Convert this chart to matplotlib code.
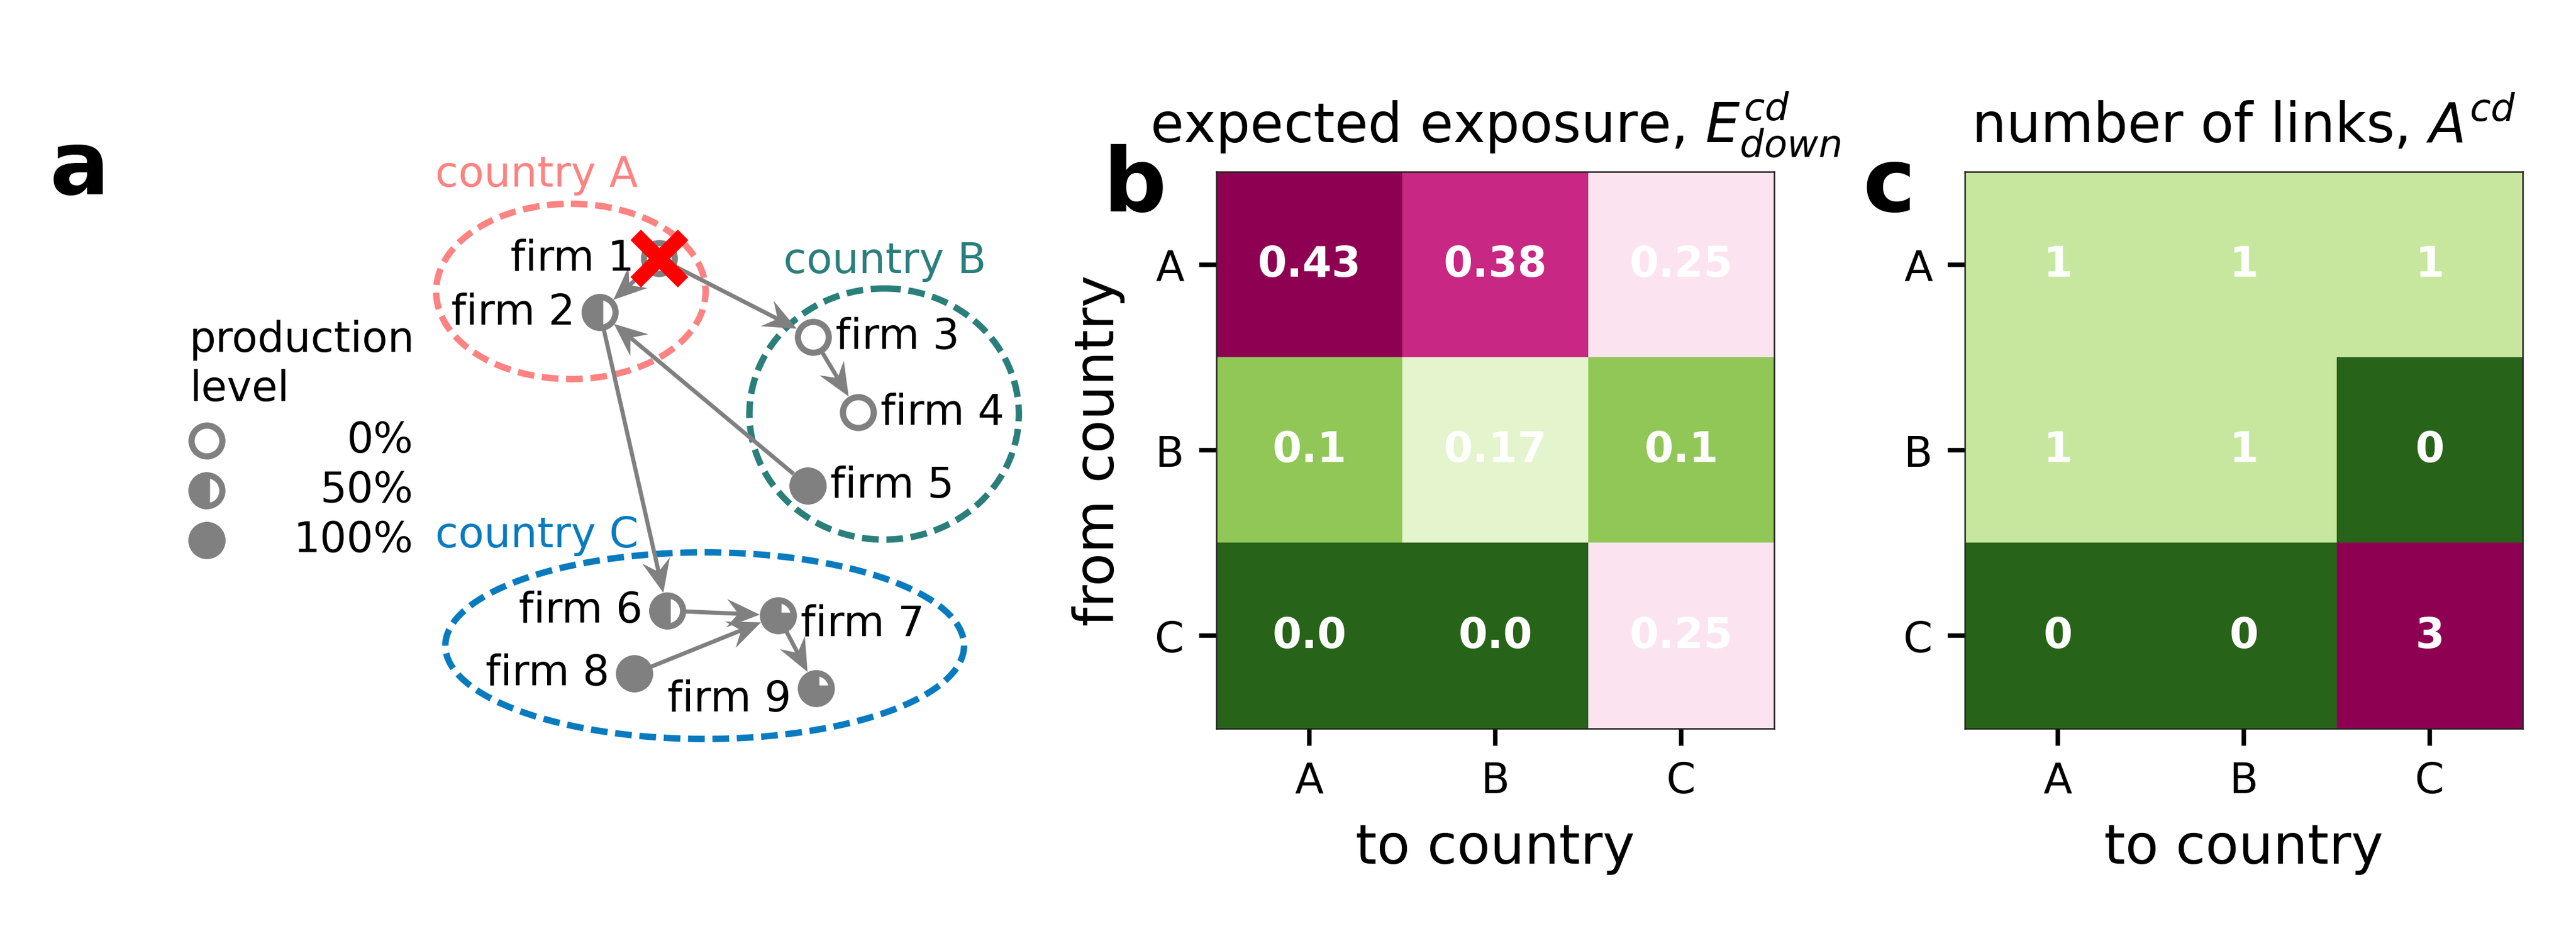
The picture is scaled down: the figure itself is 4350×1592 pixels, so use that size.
import numpy as np
import matplotlib
matplotlib.use('Agg')
import matplotlib.pyplot as plt
from matplotlib.patches import Ellipse
from matplotlib.path import Path

# heatmap data: rows = from country, columns = to country
countries = ['A', 'B', 'C']
exposure = np.array([[0.43, 0.38, 0.25],
                     [0.1, 0.17, 0.1],
                     [0.0, 0.0, 0.25]])
links = np.array([[1, 1, 1],
                  [1, 1, 0],
                  [0, 0, 3]])

# toy network (layout in figure pixels)
firm_names = ['firm %d' % i for i in range(1, 10)]
firm_x = [1113, 1013, 1373, 1449, 1364, 1127, 1314, 1071, 1378]
firm_y = [437, 528, 570, 697, 821, 1032, 1040, 1138, 1163]
production = [0, 0.5, 0, 0, 1, 0.5, 0.75, 1, 0.75]
label_side = ['left', 'left', 'right', 'right', 'right', 'left', 'right', 'left', 'left']
label_dy = [0, 0, 0, 0, 0, 0, 14, 0, 19]
edges = [(1, 2), (1, 3), (5, 2), (3, 4), (2, 6), (6, 7), (8, 7), (7, 9)]
failed_firm = 1

country_names = ['country A', 'country B', 'country C']
country_colors = ['#fd8282', '#2a7f7b', '#087bbf']
country_cx = [964, 1493, 1190]
country_cy = [493, 700, 1091]
country_w = [455, 455, 876]
country_h = [296, 424, 315]
country_label_x = [906, 1494, 907]
country_label_y = [295, 442, 905]

legend_levels = [0, 0.5, 1]
legend_labels = ['0%', '50%', '100%']

W, H = 4350, 1593
GREY = '#808080'


def draw_node(ax, x, y, level, ms=12.5, mew=2.5):
    # hollow ring, then a filled wedge for the production share
    ax.plot(x, y, marker='o', ms=ms, mfc='white', mec=GREY, mew=mew, zorder=4)
    if level > 0:
        wedge = Path.wedge(90, 90 + 360 * level)
        ax.plot(x, y, marker=wedge, ms=ms, mfc=GREY, mec=GREY, mew=mew, zorder=5)


def heatmap(ax, data, title, labels):
    ax.imshow(data, cmap='PiYG_r', aspect='auto')
    for i in range(data.shape[0]):
        for j in range(data.shape[1]):
            ax.text(j, i, labels(data[i, j]), ha='center', va='center',
                    color='white', fontweight='bold', fontsize=17)
    ax.set_xticks(range(len(countries)))
    ax.set_xticklabels(countries)
    ax.set_yticks(range(len(countries)))
    ax.set_yticklabels(countries)
    ax.tick_params(labelsize=17, length=7, width=1.8, pad=6)
    ax.set_xlabel('to country', fontsize=22, labelpad=8)
    ax.set_title(title, fontsize=22, pad=12)
    for s in ax.spines.values():
        s.set_linewidth(0.6)
        s.set_color('#222222')


fig = plt.figure(figsize=(W / 300, H / 300), dpi=300)

# panel a: network drawn in pixel coordinates of the whole figure
ax_a = fig.add_axes([0, 0, 1, 1])
ax_a.set_xlim(0, W)
ax_a.set_ylim(H, 0)
ax_a.axis('off')
ax_a.patch.set_visible(False)

for k in range(len(country_names)):
    ax_a.add_patch(Ellipse((country_cx[k], country_cy[k]), country_w[k], country_h[k],
                           fill=False, ls=(0, (2.6, 1.2)), lw=2.6, ec=country_colors[k], zorder=1))
    ax_a.text(country_label_x[k], country_label_y[k], country_names[k], color=country_colors[k],
              fontsize=17, ha='center', va='center')

r = 31
for a, b in edges:
    x0, y0 = firm_x[a - 1], firm_y[a - 1]
    x1, y1 = firm_x[b - 1], firm_y[b - 1]
    d = np.hypot(x1 - x0, y1 - y0)
    ux, uy = (x1 - x0) / d, (y1 - y0) / d
    sx, sy = x0 + ux * r, y0 + uy * r
    ex, ey = x1 - ux * r, y1 - uy * r
    ax_a.arrow(sx, sy, ex - sx, ey - sy, width=7, head_width=48, head_length=56,
               overhang=0.3, length_includes_head=True, color=GREY, lw=0, zorder=3)

for k in range(len(firm_names)):
    draw_node(ax_a, firm_x[k], firm_y[k], production[k])
    if label_side[k] == 'left':
        ax_a.text(firm_x[k] - 42, firm_y[k] + label_dy[k], firm_names[k], fontsize=17,
                  ha='right', va='center', zorder=6)
    else:
        ax_a.text(firm_x[k] + 38, firm_y[k] + label_dy[k], firm_names[k], fontsize=17,
                  ha='left', va='center', zorder=6)

ax_a.plot(firm_x[failed_firm - 1], firm_y[failed_firm - 1], marker='x', ms=19, mew=6,
          color='red', zorder=7)

# legend for production level
ax_a.text(320, 616, 'production\nlevel', fontsize=17, ha='left', va='center', linespacing=1.25)
for k in range(len(legend_levels)):
    ly = 745 + 84 * k
    draw_node(ax_a, 349, ly, legend_levels[k])
    ax_a.text(698, ly, legend_labels[k], fontsize=17, ha='right', va='center')

# panels b and c
ax_b = fig.add_axes([2054 / W, 1 - 1231 / H, 942 / W, 940 / H])
heatmap(ax_b, exposure, r'expected exposure, $E^{cd}_{down}$', lambda v: str(float(v)))
ax_b.set_ylabel('from country', fontsize=22, labelpad=12)

ax_c = fig.add_axes([3318 / W, 1 - 1231 / H, 942 / W, 940 / H])
heatmap(ax_c, links, r'number of links, $A^{cd}$', lambda v: str(int(v)))

fig.text(83 / W, 1 - 328 / H, 'a', fontsize=36, fontweight='bold', va='baseline')
fig.text(1862 / W, 1 - 357 / H, 'b', fontsize=36, fontweight='bold', va='baseline')
fig.text(3145 / W, 1 - 357 / H, 'c', fontsize=36, fontweight='bold', va='baseline')

fig.savefig('out.png', dpi=300)
